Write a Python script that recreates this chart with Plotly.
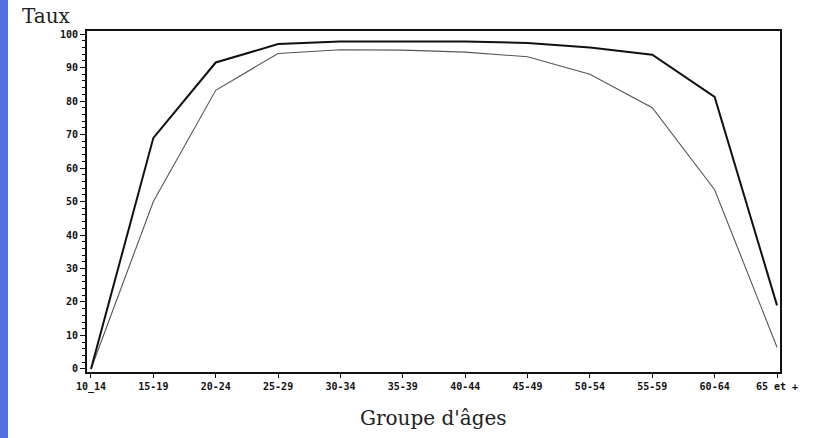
import plotly.graph_objects as go

age_groups = ["10_14", "15-19", "20-24", "25-29", "30-34", "35-39", "40-44",
              "45-49", "50-54", "55-59", "60-64", "65 et +"]
taux_hommes = [0, 69, 91.5, 97, 97.8, 97.8, 97.8, 97.3, 96, 93.8, 81.2, 19]
taux_femmes = [0, 50, 83.2, 94.2, 95.3, 95.2, 94.6, 93.2, 88, 78, 53.5, 6.5]
y_ticks = [0, 10, 20, 30, 40, 50, 60, 70, 80, 90, 100]

W, H = 821, 438
L, R, T, B = 87, 41, 31, 66
pw, ph = W - L - R, H - T - B

x_idx = list(range(len(age_groups)))

fig = go.Figure()
fig.add_trace(go.Scatter(x=x_idx, y=taux_femmes, mode="lines",
                         line=dict(color="#555555", width=1.1),
                         showlegend=False, hoverinfo="skip"))
fig.add_trace(go.Scatter(x=x_idx, y=taux_hommes, mode="lines",
                         line=dict(color="#111111", width=2),
                         showlegend=False, hoverinfo="skip"))

tickfont = dict(family="DejaVu Sans Mono", size=10, color="#111111", weight="bold")

fig.update_layout(
    width=W, height=H,
    margin=dict(l=L, r=R, t=T, b=B, pad=0),
    paper_bgcolor="white", plot_bgcolor="white",
    xaxis=dict(
        range=[-0.064, 11.048],
        tickmode="array", tickvals=x_idx, ticktext=age_groups,
        ticks="outside", ticklen=4, tickwidth=1.2, tickcolor="#111111",
        tickfont=tickfont,
        showline=True, linecolor="#111111", linewidth=2, mirror=True,
        showgrid=False, zeroline=False,
    ),
    yaxis=dict(
        range=[-0.9, 100.9],
        tickmode="array", tickvals=y_ticks,
        ticks="outside", ticklen=5, tickwidth=1.2, tickcolor="#111111",
        tickfont=tickfont,
        minor=dict(dtick=2, ticks="outside", ticklen=3, tickwidth=1,
                   tickcolor="#111111", showgrid=False),
        showline=True, linecolor="#111111", linewidth=2, mirror=True,
        showgrid=False, zeroline=False,
    ),
    shapes=[dict(type="rect", xref="paper", yref="paper",
                 x0=-L / pw, x1=(8 - L) / pw,
                 y0=-B / ph, y1=1 + T / ph,
                 fillcolor="#4f70e0", line=dict(width=0), layer="below")],
    annotations=[
        dict(text="Taux", xref="paper", yref="paper",
             x=(20 - L) / pw, y=1 + (T - 16) / ph,
             xanchor="left", yanchor="middle", showarrow=False,
             font=dict(family="DejaVu Serif", size=20, color="#222222")),
        dict(text="Groupe d'âges", xref="paper", yref="paper",
             x=0.5, y=-(418 - (H - B)) / ph,
             xanchor="center", yanchor="middle", showarrow=False,
             font=dict(family="DejaVu Serif", size=20, color="#222222")),
    ],
)

fig.write_html("out.html", config={"displayModeBar": False},
               post_script="document.body.style.margin='0';document.body.style.overflow='hidden';")
